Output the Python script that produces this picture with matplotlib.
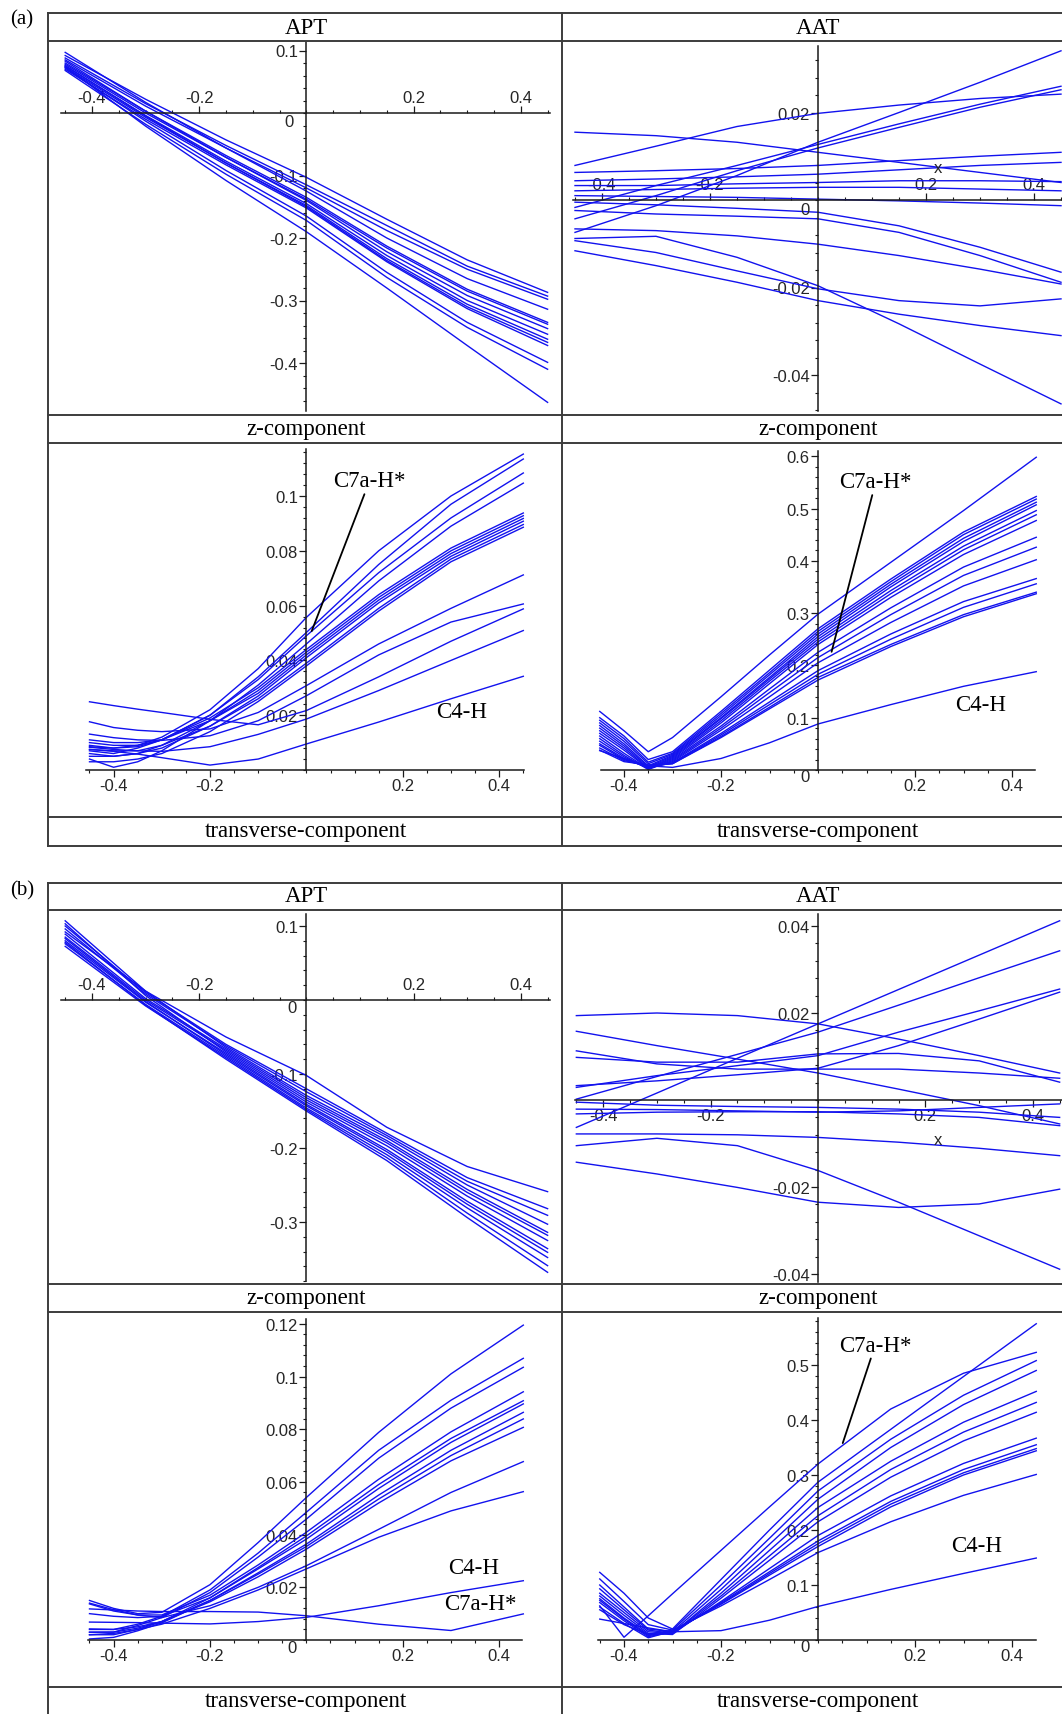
import matplotlib
matplotlib.use('Agg')
import matplotlib.pyplot as plt
from matplotlib.lines import Line2D
from matplotlib.ticker import MultipleLocator

plt.rcParams['axes.unicode_minus'] = False
plt.rcParams['font.family'] = ['Liberation Sans', 'DejaVu Sans']

# ---------------- data ----------------
X_Z = [-0.45, -0.3, -0.15, 0.0, 0.15, 0.3, 0.45]
X_T = [-0.45, -0.4, -0.35, -0.3, -0.2, -0.1, 0.0, 0.15, 0.3, 0.45]

X_TICKS = [-0.4, -0.2, 0.2, 0.4]
X_TICK_LABELS = ['-0.4', '-0.2', '0.2', '0.4']

# (a) APT z-component
APT_A_Z = [
    [0.092, 0.022, -0.043, -0.103, -0.170, -0.235, -0.287],
    [0.088, 0.015, -0.052, -0.115, -0.180, -0.245, -0.293],
    [0.085, 0.011, -0.056, -0.120, -0.188, -0.250, -0.298],
    [0.097, 0.017, -0.056, -0.125, -0.200, -0.265, -0.314],
    [0.080, 0.003, -0.068, -0.135, -0.213, -0.282, -0.335],
    [0.078, 0.000, -0.071, -0.138, -0.216, -0.285, -0.338],
    [0.083, 0.003, -0.071, -0.140, -0.222, -0.292, -0.345],
    [0.075, -0.004, -0.077, -0.145, -0.228, -0.300, -0.354],
    [0.073, -0.007, -0.080, -0.148, -0.233, -0.306, -0.362],
    [0.076, -0.005, -0.080, -0.150, -0.236, -0.310, -0.367],
    [0.070, -0.010, -0.083, -0.152, -0.238, -0.313, -0.372],
    [0.072, -0.013, -0.092, -0.165, -0.255, -0.335, -0.399],
    [0.068, -0.018, -0.098, -0.172, -0.263, -0.343, -0.410],
    [0.074, -0.021, -0.108, -0.190, -0.280, -0.372, -0.463],
]
APT_A_Z_YT = [0.1, -0.1, -0.2, -0.3, -0.4]
APT_A_Z_YL = ['0.1', '-0.1', '-0.2', '-0.3', '-0.4']

# (a) AAT z-component
AAT_A_Z = [
    [0.0079, 0.0123, 0.0168, 0.0198, 0.0217, 0.0232, 0.0242],
    [-0.0074, -0.0013, 0.0056, 0.0132, 0.0200, 0.0269, 0.0341],
    [-0.0017, 0.0033, 0.0079, 0.0127, 0.0174, 0.0219, 0.0260],
    [-0.0043, 0.0010, 0.0067, 0.0119, 0.0166, 0.0212, 0.0252],
    [0.0155, 0.0147, 0.0132, 0.0109, 0.0086, 0.0063, 0.0040],
    [0.0063, 0.0067, 0.0072, 0.0079, 0.0090, 0.0100, 0.0109],
    [0.0044, 0.0048, 0.0053, 0.0059, 0.0069, 0.0079, 0.0086],
    [0.0033, 0.0033, 0.0037, 0.0040, 0.0044, 0.0044, 0.0042],
    [0.0010, 0.0008, 0.0006, 0.0002, -0.0002, -0.0007, -0.0013],
    [0.0021, 0.0024, 0.0027, 0.0029, 0.0029, 0.0025, 0.0021],
    [-0.0005, -0.0011, -0.0019, -0.0028, -0.0059, -0.0108, -0.0165],
    [-0.0024, -0.0032, -0.0037, -0.0043, -0.0074, -0.0127, -0.0188],
    [-0.0066, -0.0070, -0.0082, -0.0101, -0.0127, -0.0158, -0.0192],
    [-0.0088, -0.0083, -0.0131, -0.0196, -0.0283, -0.0375, -0.0466],
    [-0.0093, -0.0120, -0.0162, -0.0203, -0.0230, -0.0242, -0.0226],
    [-0.0116, -0.0150, -0.0188, -0.0230, -0.0261, -0.0287, -0.0310],
]
AAT_A_Z_YT = [0.02, -0.02, -0.04]
AAT_A_Z_YL = ['0.02', '-0.02', '-0.04']

# (a) APT transverse-component
APT_A_T = [
    [0.0090, 0.0080, 0.0090, 0.0120, 0.0220, 0.0370, 0.0557, 0.0800, 0.1000, 0.1153],
    [0.0070, 0.0060, 0.0080, 0.0110, 0.0200, 0.0340, 0.0502, 0.0750, 0.0970, 0.1135],
    [0.0085, 0.0080, 0.0085, 0.0110, 0.0200, 0.0330, 0.0490, 0.0720, 0.0920, 0.1084],
    [0.0040, 0.0010, 0.0030, 0.0070, 0.0180, 0.0310, 0.0460, 0.0690, 0.0890, 0.1047],
    [0.0100, 0.0090, 0.0090, 0.0110, 0.0190, 0.0300, 0.0440, 0.0640, 0.0810, 0.0938],
    [0.0050, 0.0050, 0.0060, 0.0090, 0.0180, 0.0290, 0.0430, 0.0630, 0.0800, 0.0928],
    [0.0110, 0.0100, 0.0100, 0.0110, 0.0180, 0.0280, 0.0420, 0.0620, 0.0790, 0.0918],
    [0.0060, 0.0050, 0.0060, 0.0080, 0.0160, 0.0270, 0.0410, 0.0610, 0.0780, 0.0908],
    [0.0075, 0.0070, 0.0070, 0.0090, 0.0160, 0.0260, 0.0390, 0.0590, 0.0770, 0.0896],
    [0.0030, 0.0030, 0.0040, 0.0060, 0.0140, 0.0250, 0.0380, 0.0580, 0.0760, 0.0886],
    [0.0176, 0.0155, 0.0145, 0.0140, 0.0150, 0.0210, 0.0308, 0.0460, 0.0590, 0.0712],
    [0.0249, 0.0235, 0.0222, 0.0210, 0.0185, 0.0165, 0.0217, 0.0340, 0.0470, 0.0588],
    [0.0131, 0.0118, 0.0110, 0.0108, 0.0125, 0.0180, 0.0271, 0.0420, 0.0540, 0.0606],
    [0.0083, 0.0075, 0.0070, 0.0068, 0.0085, 0.0130, 0.0186, 0.0290, 0.0400, 0.0509],
    [0.0075, 0.0068, 0.0058, 0.0045, 0.0018, 0.0040, 0.0095, 0.0175, 0.0260, 0.0342],
]
APT_A_T_YT = [0.02, 0.04, 0.06, 0.08, 0.1]
APT_A_T_YL = ['0.02', '0.04', '0.06', '0.08', '0.1']

# (a) AAT transverse-component
AAT_A_T = [
    [0.112, 0.075, 0.035, 0.062, 0.140, 0.220, 0.298, 0.397, 0.496, 0.598],
    [0.100, 0.065, 0.020, 0.035, 0.112, 0.191, 0.270, 0.365, 0.455, 0.523],
    [0.095, 0.060, 0.015, 0.032, 0.108, 0.186, 0.265, 0.360, 0.450, 0.518],
    [0.090, 0.055, 0.012, 0.030, 0.104, 0.182, 0.260, 0.355, 0.443, 0.512],
    [0.085, 0.050, 0.008, 0.028, 0.100, 0.177, 0.255, 0.350, 0.437, 0.507],
    [0.080, 0.046, 0.006, 0.026, 0.098, 0.174, 0.250, 0.343, 0.428, 0.496],
    [0.075, 0.042, 0.004, 0.024, 0.094, 0.170, 0.245, 0.337, 0.421, 0.488],
    [0.070, 0.038, 0.003, 0.022, 0.090, 0.165, 0.240, 0.330, 0.412, 0.477],
    [0.065, 0.032, 0.002, 0.020, 0.084, 0.155, 0.225, 0.310, 0.388, 0.445],
    [0.060, 0.028, 0.001, 0.018, 0.080, 0.148, 0.215, 0.297, 0.372, 0.426],
    [0.055, 0.025, 0.003, 0.016, 0.076, 0.140, 0.205, 0.282, 0.352, 0.402],
    [0.050, 0.022, 0.004, 0.014, 0.070, 0.130, 0.190, 0.260, 0.322, 0.366],
    [0.047, 0.020, 0.006, 0.013, 0.067, 0.125, 0.183, 0.250, 0.311, 0.356],
    [0.042, 0.018, 0.008, 0.012, 0.064, 0.120, 0.177, 0.240, 0.297, 0.340],
    [0.038, 0.016, 0.010, 0.012, 0.062, 0.117, 0.172, 0.236, 0.293, 0.337],
    [0.037, 0.022, 0.008, 0.005, 0.022, 0.052, 0.088, 0.125, 0.160, 0.188],
]
AAT_A_T_YT = [0.1, 0.2, 0.3, 0.4, 0.5, 0.6]
AAT_A_T_YL = ['0.1', '0.2', '0.3', '0.4', '0.5', '0.6']

# (b) APT z-component
APT_B_Z = [
    [0.092, 0.012, -0.050, -0.102, -0.172, -0.225, -0.259],
    [0.100, 0.010, -0.060, -0.120, -0.180, -0.240, -0.282],
    [0.096, 0.008, -0.062, -0.124, -0.183, -0.245, -0.291],
    [0.107, 0.012, -0.064, -0.129, -0.186, -0.250, -0.303],
    [0.089, 0.002, -0.066, -0.132, -0.190, -0.256, -0.314],
    [0.085, 0.000, -0.068, -0.135, -0.193, -0.260, -0.318],
    [0.103, 0.006, -0.070, -0.138, -0.197, -0.265, -0.325],
    [0.080, -0.003, -0.072, -0.141, -0.202, -0.272, -0.336],
    [0.083, -0.002, -0.074, -0.143, -0.205, -0.276, -0.341],
    [0.076, -0.006, -0.076, -0.146, -0.209, -0.281, -0.348],
    [0.0725, -0.008, -0.078, -0.148, -0.213, -0.288, -0.359],
    [0.078, -0.007, -0.080, -0.150, -0.217, -0.294, -0.368],
]
APT_B_Z_YT = [0.1, -0.1, -0.2, -0.3]
APT_B_Z_YL = ['0.1', '-0.1', '-0.2', '-0.3']

# (b) AAT z-component
AAT_B_Z = [
    [-0.0063, 0.0016, 0.0096, 0.0175, 0.0254, 0.0333, 0.0412],
    [0.0002, 0.0054, 0.0105, 0.0156, 0.0218, 0.0281, 0.0343],
    [0.0029, 0.0056, 0.0079, 0.0102, 0.0156, 0.0205, 0.0255],
    [0.0033, 0.0044, 0.0058, 0.0073, 0.0125, 0.0186, 0.0248],
    [0.0194, 0.0200, 0.0194, 0.0175, 0.0140, 0.0102, 0.0062],
    [0.0158, 0.0125, 0.0094, 0.0062, 0.0025, -0.0013, -0.0055],
    [0.0113, 0.0083, 0.0071, 0.0071, 0.0071, 0.0062, 0.0050],
    [0.0098, 0.0087, 0.0087, 0.0106, 0.0107, 0.0090, 0.0041],
    [-0.0005, -0.0012, -0.0015, -0.0017, -0.0021, -0.0028, -0.0040],
    [-0.0021, -0.0022, -0.0025, -0.0028, -0.0025, -0.0017, -0.0009],
    [-0.0032, -0.0028, -0.0027, -0.0027, -0.0032, -0.0040, -0.0059],
    [-0.0078, -0.0078, -0.0080, -0.0086, -0.0097, -0.0111, -0.0128],
    [-0.0105, -0.0088, -0.0105, -0.0162, -0.0235, -0.0312, -0.0389],
    [-0.0143, -0.0170, -0.0201, -0.0235, -0.0247, -0.0239, -0.0205],
]
AAT_B_Z_YT = [0.04, 0.02, -0.02, -0.04]
AAT_B_Z_YL = ['0.04', '0.02', '-0.02', '-0.04']

# (b) APT transverse-component
APT_B_T = [
    [0.0150, 0.0120, 0.0100, 0.0105, 0.0210, 0.0370, 0.0541, 0.0788, 0.1010, 0.1195],
    [0.0040, 0.0040, 0.0060, 0.0090, 0.0190, 0.0330, 0.0485, 0.0720, 0.0910, 0.1069],
    [0.0030, 0.0030, 0.0055, 0.0085, 0.0180, 0.0315, 0.0459, 0.0690, 0.0880, 0.1035],
    [0.0137, 0.0110, 0.0095, 0.0095, 0.0170, 0.0285, 0.0409, 0.0610, 0.0790, 0.0942],
    [0.0020, 0.0020, 0.0040, 0.0070, 0.0160, 0.0275, 0.0395, 0.0590, 0.0765, 0.0908],
    [0.0100, 0.0090, 0.0085, 0.0090, 0.0160, 0.0270, 0.0383, 0.0575, 0.0750, 0.0896],
    [0.0004, 0.0010, 0.0035, 0.0065, 0.0150, 0.0255, 0.0364, 0.0550, 0.0720, 0.0864],
    [0.0029, 0.0030, 0.0045, 0.0070, 0.0150, 0.0250, 0.0355, 0.0535, 0.0700, 0.0839],
    [0.0042, 0.0040, 0.0050, 0.0070, 0.0145, 0.0240, 0.0345, 0.0520, 0.0680, 0.0807],
    [0.0140, 0.0115, 0.0095, 0.0085, 0.0130, 0.0200, 0.0282, 0.0420, 0.0560, 0.0677],
    [0.0020, 0.0025, 0.0040, 0.0060, 0.0120, 0.0190, 0.0270, 0.0390, 0.0490, 0.0563],
    [0.0068, 0.0067, 0.0066, 0.0064, 0.0061, 0.0070, 0.0086, 0.0130, 0.0180, 0.0225],
    [0.0118, 0.0114, 0.0110, 0.0108, 0.0108, 0.0106, 0.0092, 0.0060, 0.0036, 0.0099],
]
APT_B_T_YT = [0.02, 0.04, 0.06, 0.08, 0.1, 0.12]
APT_B_T_YL = ['0.02', '0.04', '0.06', '0.08', '0.1', '0.12']

# (b) AAT transverse-component
AAT_B_T = [
    [0.062, 0.005, 0.044, 0.084, 0.163, 0.242, 0.320, 0.420, 0.485, 0.523],
    [0.123, 0.085, 0.040, 0.020, 0.110, 0.200, 0.287, 0.383, 0.479, 0.575],
    [0.111, 0.070, 0.028, 0.018, 0.100, 0.185, 0.271, 0.365, 0.445, 0.508],
    [0.100, 0.060, 0.020, 0.015, 0.092, 0.174, 0.256, 0.350, 0.428, 0.490],
    [0.093, 0.055, 0.018, 0.012, 0.085, 0.163, 0.241, 0.325, 0.396, 0.452],
    [0.085, 0.050, 0.015, 0.012, 0.080, 0.153, 0.226, 0.310, 0.378, 0.432],
    [0.080, 0.045, 0.012, 0.010, 0.076, 0.145, 0.215, 0.296, 0.362, 0.414],
    [0.075, 0.040, 0.010, 0.012, 0.070, 0.130, 0.190, 0.262, 0.321, 0.367],
    [0.072, 0.038, 0.008, 0.014, 0.068, 0.124, 0.180, 0.252, 0.310, 0.355],
    [0.068, 0.035, 0.006, 0.015, 0.066, 0.121, 0.175, 0.247, 0.304, 0.348],
    [0.060, 0.030, 0.004, 0.016, 0.065, 0.118, 0.170, 0.242, 0.300, 0.344],
    [0.055, 0.028, 0.010, 0.018, 0.062, 0.110, 0.159, 0.215, 0.263, 0.301],
    [0.038, 0.030, 0.022, 0.015, 0.017, 0.036, 0.061, 0.092, 0.121, 0.149],
]
AAT_B_T_YT = [0.1, 0.2, 0.3, 0.4, 0.5]
AAT_B_T_YL = ['0.1', '0.2', '0.3', '0.4', '0.5']

# ---------------- layout (pixels) ----------------
W, H = 1062, 1715
fig = plt.figure(figsize=(W / 100, H / 100), dpi=100)

LINE_BLUE = '#1212ee'
FRAME = '#3c3c3c'
TXT = '#262626'
SERIF = ['Liberation Serif', 'DejaVu Serif']
TICK_FS = 12
SERIF_FS = 16.5


def make_axes(x0, sx, y0, sy, xlim, ylim):
    left = x0 + xlim[0] * sx
    right = x0 + xlim[1] * sx
    top = y0 - ylim[1] * sy
    bottom = y0 - ylim[0] * sy
    ax = fig.add_axes([left / W, 1 - bottom / H, (right - left) / W, (bottom - top) / H])
    ax.set_xlim(*xlim)
    ax.set_ylim(*ylim)
    ax.patch.set_visible(False)
    return ax


def style(ax, yt, yl, yminor, labels_top):
    for s in ax.spines.values():
        s.set_visible(False)
    ax.spines['left'].set_visible(True)
    ax.spines['left'].set_position(('data', 0))
    side = 'top' if labels_top else 'bottom'
    ax.spines[side].set_visible(True)
    ax.spines[side].set_position(('data', 0))
    for s in ('left', side):
        ax.spines[s].set_linewidth(1.1)
        ax.spines[s].set_color('#1a1a1a')
    if labels_top:
        ax.xaxis.tick_top()
    else:
        ax.xaxis.tick_bottom()
    ax.yaxis.tick_left()
    ax.set_xticks(X_TICKS)
    ax.set_xticklabels(X_TICK_LABELS)
    ax.xaxis.set_minor_locator(MultipleLocator(0.05))
    ax.set_yticks(yt)
    ax.set_yticklabels(yl)
    ax.yaxis.set_minor_locator(MultipleLocator(yminor))
    ax.tick_params(which='major', length=5, width=0.9, color='#1a1a1a',
                   labelsize=TICK_FS, labelcolor=TXT, pad=1.0, direction='out')
    ax.tick_params(which='minor', length=2.5, width=0.8, color='#1a1a1a', direction='out')


def draw(ax, xs, curves):
    for c in curves:
        ax.plot(xs, c, color=LINE_BLUE, lw=1.0, solid_joinstyle='round', clip_on=False)


def note(ax, x, y, s):
    ax.text(x, y, s, ha='center', va='center', fontsize=SERIF_FS, family=SERIF, color='black')


def pointer(ax, tip, pos, s):
    ax.annotate(s, xy=tip, xytext=pos, ha='center', va='center',
                fontsize=SERIF_FS, family=SERIF, color='black',
                arrowprops=dict(arrowstyle='-', color='black', lw=1.3, shrinkA=0, shrinkB=0))


# (a) top-left APT
ax = make_axes(306.4, 536, 114, 625, (-0.457, 0.455), (-0.477, 0.1136))
style(ax, APT_A_Z_YT, APT_A_Z_YL, 0.02, True)
draw(ax, X_Z, APT_A_Z)
ax.text(-0.032, -0.0144, '0', ha='center', va='center', fontsize=TICK_FS, color=TXT)

# (a) top-right AAT
ax = make_axes(818, 540, 201, 4375, (-0.4537, 0.47), (-0.0482, 0.0352))
style(ax, AAT_A_Z_YT, AAT_A_Z_YL, 0.004, True)
draw(ax, X_Z, AAT_A_Z)
ax.text(-0.024, -0.0021, '0', ha='center', va='center', fontsize=TICK_FS, color=TXT)
ax.text(0.222, 0.0075, 'x', ha='center', va='center', fontsize=TICK_FS, color=TXT)

# (a) bottom-left APT transverse
ax = make_axes(306.4, 482, 771, 2740, (-0.457, 0.452), (0.0, 0.1172))
style(ax, APT_A_T_YT, APT_A_T_YL, 0.004, False)
draw(ax, X_T, APT_A_T)
pointer(ax, (0.011, 0.0507), (0.131, 0.1055), 'C7a-H*')
note(ax, 0.322, 0.0215, 'C4-H')

# (a) bottom-right AAT transverse
ax = make_axes(818, 485, 771, 523, (-0.447, 0.447), (0.0, 0.61))
style(ax, AAT_A_T_YT, AAT_A_T_YL, 0.02, False)
draw(ax, X_T, AAT_A_T)
ax.text(-0.027, -0.013, '0', ha='center', va='center', fontsize=TICK_FS, color=TXT)
pointer(ax, (0.028, 0.226), (0.119, 0.551), 'C7a-H*')
note(ax, 0.335, 0.126, 'C4-H')

# (b) top-left APT
ax = make_axes(306.4, 536, 1001, 740, (-0.457, 0.455), (-0.38, 0.116))
style(ax, APT_B_Z_YT, APT_B_Z_YL, 0.02, True)
draw(ax, X_Z, APT_B_Z)
ax.text(-0.026, -0.0095, '0', ha='center', va='center', fontsize=TICK_FS, color=TXT)

# (b) top-right AAT
ax = make_axes(818, 537, 1101, 4350, (-0.4525, 0.47), (-0.0418, 0.0428))
style(ax, AAT_B_Z_YT, AAT_B_Z_YL, 0.004, False)
draw(ax, X_Z, AAT_B_Z)
ax.text(0.223, -0.009, 'x', ha='center', va='center', fontsize=TICK_FS, color=TXT)

# (b) bottom-left APT transverse
ax = make_axes(306.4, 482, 1641, 2635, (-0.454, 0.447), (0.0, 0.1218))
style(ax, APT_B_T_YT, APT_B_T_YL, 0.004, False)
draw(ax, X_T, APT_B_T)
ax.text(-0.029, -0.0027, '0', ha='center', va='center', fontsize=TICK_FS, color=TXT)
note(ax, 0.347, 0.0277, 'C4-H')
note(ax, 0.360, 0.0137, 'C7a-H*')

# (b) bottom-right AAT transverse
ax = make_axes(818, 485, 1641, 550, (-0.454, 0.449), (0.0, 0.585))
style(ax, AAT_B_T_YT, AAT_B_T_YL, 0.02, False)
draw(ax, X_T, AAT_B_T)
ax.text(-0.027, -0.0127, '0', ha='center', va='center', fontsize=TICK_FS, color=TXT)
pointer(ax, (0.051, 0.358), (0.118, 0.536), 'C7a-H*')
note(ax, 0.327, 0.171, 'C4-H')

# ---------------- frames ----------------
def hline(y, x0, x1):
    fig.add_artist(Line2D([x0 / W, x1 / W], [1 - y / H, 1 - y / H], color=FRAME, lw=1.4,
                          transform=fig.transFigure))


def vline(x, y0, y1):
    fig.add_artist(Line2D([x / W, x / W], [1 - y0 / H, 1 - y1 / H], color=FRAME, lw=1.4,
                          transform=fig.transFigure))


for y in (14, 42, 416, 444, 818, 847):
    hline(y, 48, 1062)
vline(48, 14, 847)
vline(562, 14, 847)
for y in (884, 911, 1285, 1313, 1688):
    hline(y, 48, 1062)
vline(48, 884, 1715)
vline(562, 884, 1715)


def ftext(x, y, s, size=SERIF_FS):
    fig.text(x / W, 1 - y / H, s, ha='center', va='center', fontsize=size,
             family=SERIF, color='black')


ftext(306, 28, 'APT')
ftext(818, 28, 'AAT')
ftext(306, 430, 'z-component')
ftext(818, 430, 'z-component')
ftext(306, 832, 'transverse-component')
ftext(818, 832, 'transverse-component')
ftext(306, 897, 'APT')
ftext(818, 897, 'AAT')
ftext(306, 1299, 'z-component')
ftext(818, 1299, 'z-component')
ftext(306, 1702, 'transverse-component')
ftext(818, 1702, 'transverse-component')
ftext(22, 20, '(a)', 15)
ftext(22, 891, '(b)', 15)

fig.savefig('out.png', dpi=100)
